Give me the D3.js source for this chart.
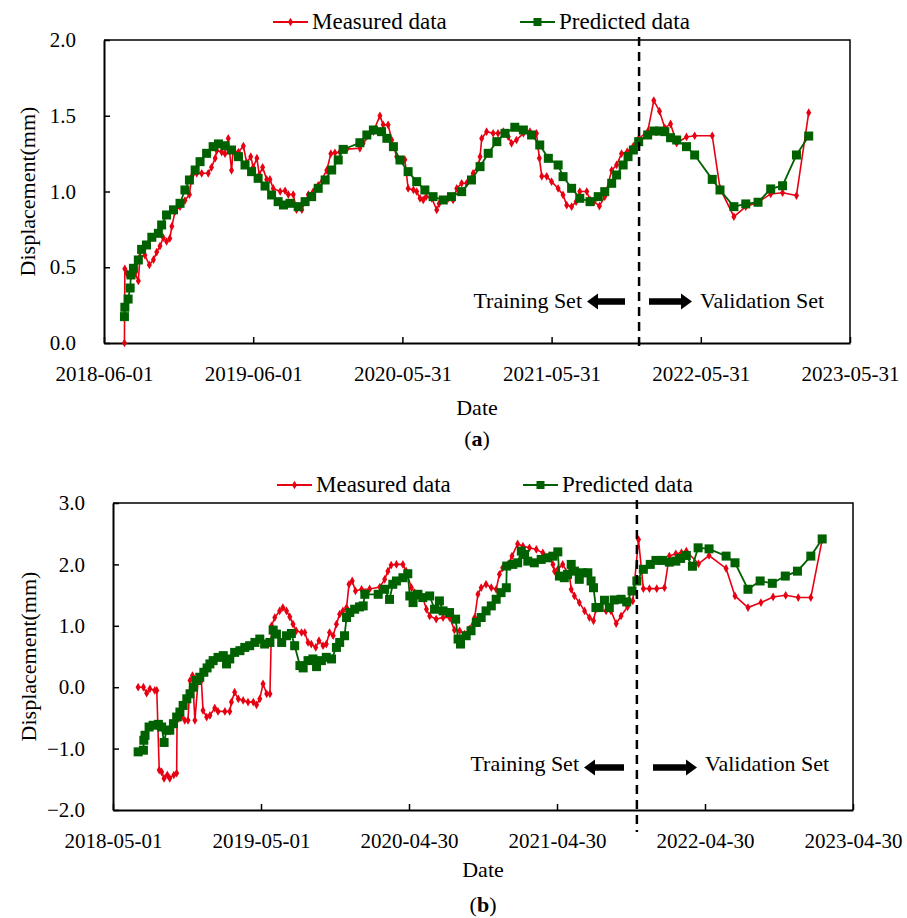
<!DOCTYPE html>
<html>
<head>
<meta charset="utf-8">
<script src="https://cdn.jsdelivr.net/npm/d3@7"></script>
<style>
  body { margin: 0; background: #fff; }
  svg text { font-family: "Liberation Serif", serif; fill: #000; }
</style>
</head>
<body>
<svg id="chart" width="907" height="918"></svg>
<script>
// ---- panel (a) data : x = days since first tick date ----
var xTicksA = ["2018-06-01", "2019-06-01", "2020-05-31", "2021-05-31", "2022-05-31", "2023-05-31"];
var yTicksA = [0, 0.5, 1.0, 1.5, 2.0];
var splitA = 1309; // training / validation boundary

var measuredDaysA = [50,51,56,68,76,84,88,100,111,121,129,137,145,153,161,166,174,186,198,209,215,227,239,255,263,272,276,288,296,304,312,316,329,341,349,359,365,374,380,388,398,406,414,431,443,451,463,471,484,500,512,524,545,555,565,577,594,626,634,659,675,683,695,704,716,736,744,757,765,773,781,788,802,814,820,842,854,863,875,887,903,916,920,924,936,952,964,977,989,997,1009,1026,1042,1058,1065,1071,1083,1095,1111,1123,1132,1144,1155,1164,1181,1189,1199,1212,1225,1242,1254,1266,1280,1295,
  1308,1330,1345,1359,1372,1386,1401,1425,1445,1488,1507,1541,1570,1600,1631,1660,1694,1724];
var measuredA = [0.0,0.49,0.46,0.47,0.46,0.41,0.57,0.58,0.515,0.55,0.60,0.64,0.695,0.67,0.69,0.77,0.87,0.90,0.94,0.98,1.10,1.12,1.12,1.12,1.16,1.22,1.27,1.26,1.25,1.35,1.14,1.27,1.26,1.30,1.19,1.23,1.16,1.22,1.11,1.16,1.08,1.08,1.02,1.00,1.005,0.98,0.98,0.88,0.88,0.98,1.00,1.04,1.14,1.25,1.255,1.26,1.28,1.285,1.32,1.395,1.50,1.44,1.44,1.34,1.23,1.21,1.02,1.01,1.00,0.955,0.944,0.966,0.955,0.878,0.92,0.955,0.944,1.02,1.054,1.054,1.12,1.175,1.23,1.35,1.395,1.384,1.384,1.395,1.362,1.318,1.34,1.384,1.395,1.384,1.22,1.10,1.10,1.065,1.02,0.977,0.91,0.90,0.933,1.00,1.00,0.944,0.933,0.904,0.966,1.14,1.175,1.25,1.263,1.30,
  1.35,1.395,1.60,1.53,1.42,1.446,1.32,1.36,1.368,1.368,1.02,0.834,0.90,0.929,0.984,0.992,0.973,1.52];

var predictedDaysA = [50,51,59,64,66,72,84,92,104,117,133,141,153,170,186,198,209,223,235,251,267,280,296,312,329,345,361,377,394,410,426,439,455,475,492,508,524,541,557,573,585,626,643,659,679,692,708,724,744,765,785,805,830,850,875,899,920,940,961,981,1005,1026,1046,1066,1087,1111,1123,1144,1164,1189,1209,1225,1242,1254,1270,1282,1295,
  1308,1330,1345,1359,1372,1386,1401,1425,1445,1488,1507,1541,1570,1600,1631,1660,1694,1724];
var predictedA = [0.174,0.236,0.29,0.363,0.449,0.493,0.548,0.618,0.647,0.698,0.724,0.779,0.845,0.879,0.922,1.01,1.076,1.142,1.197,1.252,1.296,1.314,1.302,1.274,1.23,1.175,1.131,1.087,1.036,0.977,0.933,0.911,0.922,0.90,0.933,0.966,1.021,1.076,1.142,1.208,1.278,1.322,1.373,1.406,1.395,1.351,1.296,1.208,1.131,1.065,1.01,0.966,0.944,0.966,0.999,1.076,1.164,1.252,1.329,1.384,1.424,1.406,1.373,1.307,1.219,1.175,1.098,1.021,0.955,0.933,0.966,0.999,1.054,1.109,1.175,1.23,1.274,
  1.329,1.373,1.399,1.399,1.395,1.355,1.34,1.296,1.241,1.08,1.01,0.90,0.918,0.929,1.017,1.038,1.241,1.366];

// ---- panel (b) data ----
var xTicksB = ["2018-05-01", "2019-05-01", "2020-04-30", "2021-04-30", "2022-04-30", "2023-04-30"];
var yTicksB = [-2, -1, 0, 1, 2, 3];
var splitB = 1292;

var measuredDaysB = [62,75,83,91,103,108,114,120,126,134,140,150,157,158,169,177,185,190,196,202,210,218,222,231,239,251,259,276,288,292,300,309,321,333,346,354,362,370,379,387,391,399,411,419,428,436,444,452,465,473,481,489,500,508,518,526,534,543,551,559,567,576,582,590,598,613,633,658,670,678,686,699,715,723,736,744,752,764,773,781,797,814,830,842,855,867,879,892,900,908,920,933,945,953,961,974,984,998,1011,1027,1044,1060,1076,1085,1089,1097,1109,1126,1130,1138,1150,1163,1175,1185,1191,1216,1228,1241,1253,1269,1282,1296,
  1308,1323,1341,1360,1372,1388,1402,1414,1444,1470,1512,1534,1566,1598,1628,1659,1690,1721,1749];
var measuredB = [0.0,0.0,-0.097,-0.026,-0.053,-0.053,-1.35,-1.38,-1.485,-1.43,-1.485,-1.43,-1.40,-0.54,-0.486,-0.54,-0.54,0.109,0.19,-0.54,0.109,0.109,-0.378,-0.486,-0.459,-0.34,-0.394,-0.394,-0.394,-0.243,-0.081,-0.189,-0.216,-0.243,-0.243,-0.286,-0.189,0.055,-0.107,-0.107,1.0,1.134,1.243,1.297,1.243,1.146,1.027,0.919,0.891,0.891,0.729,0.703,0.648,0.757,0.676,0.703,0.891,0.838,1.027,1.19,1.243,1.297,1.676,1.73,1.567,1.595,1.60,1.63,1.757,1.89,1.99,2.0,2.0,1.89,1.62,1.54,1.486,1.46,1.27,1.16,1.11,1.135,1.135,0.93,0.919,0.865,0.946,1.135,1.514,1.62,1.676,1.62,1.595,1.838,1.945,2.0,2.135,2.334,2.296,2.27,2.243,2.188,2.135,2.0,1.89,1.92,2.0,1.81,1.595,1.486,1.378,1.243,1.135,1.081,1.27,1.243,1.243,1.037,1.16,1.31,1.405,2.405,
  1.605,1.605,1.605,1.62,2.135,2.172,2.19,2.215,2.01,2.145,1.935,1.486,1.297,1.378,1.47,1.497,1.46,1.46,2.405];

var predictedDaysB = [62,75,76,79,89,99,112,120,126,132,140,149,157,165,173,182,190,198,206,214,224,232,239,247,259,272,280,288,300,313,325,337,350,362,374,387,395,403,416,428,440,448,461,469,481,493,502,514,526,539,551,559,571,576,584,596,608,617,621,654,670,682,690,699,715,727,732,740,752,764,781,793,805,814,830,845,851,857,871,883,896,908,920,933,945,957,970,971,986,998,1007,1015,1023,1039,1056,1072,1085,1097,1101,1113,1121,1130,1138,1150,1158,1171,1179,1185,1191,1199,1212,1224,1236,1253,1267,1280,
  1292,1308,1325,1339,1355,1372,1388,1400,1414,1429,1443,1470,1512,1534,1566,1596,1626,1658,1688,1721,1749];
var predictedB = [-1.053,-1.026,-0.864,-0.783,-0.648,-0.62,-0.605,-0.648,-0.90,-0.70,-0.70,-0.594,-0.486,-0.405,-0.297,-0.189,-0.107,0.0,0.109,0.162,0.243,0.314,0.379,0.433,0.486,0.514,0.379,0.46,0.567,0.595,0.648,0.676,0.729,0.784,0.703,0.729,0.93,0.865,0.729,0.838,0.875,0.676,0.352,0.314,0.433,0.46,0.335,0.433,0.486,0.46,0.648,0.729,0.838,1.135,1.216,1.27,1.308,1.324,1.513,1.513,1.595,1.43,1.676,1.73,1.783,1.848,1.486,1.378,1.513,1.459,1.486,1.27,1.405,1.243,1.216,1.108,0.784,0.703,0.838,0.919,1.054,1.135,1.243,1.324,1.432,1.54,1.62,1.973,2.0,2.026,2.216,2.162,2.053,2.026,2.081,2.107,2.134,2.204,1.81,1.783,1.838,2.0,1.89,1.757,1.864,1.864,1.73,1.62,1.297,1.297,1.416,1.297,1.421,1.432,1.389,1.567,
  1.73,1.92,2.0,2.065,2.065,2.037,2.053,2.097,2.146,1.97,2.27,2.253,2.135,2.026,1.595,1.73,1.692,1.81,1.89,2.135,2.415];

var seriesNames = ["Measured data", "Predicted data"];
var redColor = "#e60012";
var greenColor = "#006100";

// ---- layout for each panel ----
var panels = [
  { tag: "a", xTicks: xTicksA, yTicks: yTicksA, split: splitA,
    measured: d3.zip(measuredDaysA, measuredA), predicted: d3.zip(predictedDaysA, predictedA),
    left: 104, top: 40, right: 850, bottom: 343,
    legendY: 22, legendX: [273, 520], dashEnd: 346,
    arrowY: 301.5, noteY: 308, trainEnd: 582, valStart: 700, leftArrow: [587, 625], rightArrow: [649, 692],
    titleX: 27, dateY: 415, capY: 446 },
  { tag: "b", xTicks: xTicksB, yTicks: yTicksB, split: splitB,
    measured: d3.zip(measuredDaysB, measuredB), predicted: d3.zip(predictedDaysB, predictedB),
    left: 113, top: 503, right: 853, bottom: 810,
    legendY: 485, legendX: [277, 523], dashEnd: 832,
    arrowY: 767.5, noteY: 771, trainEnd: 579, valStart: 705, leftArrow: [584, 624], rightArrow: [653, 697],
    titleX: 28, dateY: 877, capY: 912 }
];

var svg = d3.select("#chart");
var parseDate = d3.utcParse("%Y-%m-%d");
var fmtDate = d3.utcFormat("%Y-%m-%d");

// block arrow, dir = -1 points left, 1 points right
function arrowPath(x1, x2, cy, dir) {
  var tip = dir < 0 ? x1 : x2, tail = dir < 0 ? x2 : x1;
  var hl = 11 * -dir, hh = 8, st = 3.2;
  return "M" + tip + "," + cy +
    "L" + (tip + hl) + "," + (cy - hh) + "L" + (tip + hl) + "," + (cy - st) +
    "L" + tail + "," + (cy - st) + "L" + tail + "," + (cy + st) +
    "L" + (tip + hl) + "," + (cy + st) + "L" + (tip + hl) + "," + (cy + hh) + "Z";
}

function drawPanel(p) {
  var g = svg.append("g");
  var start = parseDate(p.xTicks[0]);
  var day = function (d) { return d3.utcDay.offset(start, d); };

  var x = d3.scaleUtc()
    .domain([start, parseDate(p.xTicks[p.xTicks.length - 1])])
    .range([p.left, p.right]);
  var y = d3.scaleLinear()
    .domain(d3.extent(p.yTicks))
    .range([p.bottom, p.top]);

  // top and right frame
  g.append("path")
    .attr("d", "M" + p.left + "," + p.top + "H" + p.right + "V" + p.bottom)
    .attr("fill", "none")
    .attr("stroke", "#000")
    .attr("stroke-width", 1.5);

  var xAxis = g.append("g")
    .attr("transform", "translate(0," + p.bottom + ")")
    .call(d3.axisBottom(x)
      .tickValues(p.xTicks.map(parseDate))
      .tickFormat(fmtDate)
      .tickSizeInner(-6).tickSizeOuter(0).tickPadding(23));

  var yAxis = g.append("g")
    .attr("transform", "translate(" + p.left + ",0)")
    .call(d3.axisLeft(y)
      .tickValues(p.yTicks)
      .tickFormat(d3.format(".1f"))
      .tickSizeInner(-6).tickSizeOuter(0).tickPadding(28));

  [xAxis, yAxis].forEach(function (ax) {
    ax.attr("font-family", "Liberation Serif, serif").attr("font-size", 21);
    ax.select(".domain").attr("stroke", "#000").attr("stroke-width", 2);
    ax.selectAll(".tick line").attr("stroke", "#000").attr("stroke-width", 1.5);
  });

  // series
  var line = d3.line()
    .x(function (d) { return x(day(d[0])); })
    .y(function (d) { return y(d[1]); });

  g.append("path").datum(p.measured)
    .attr("d", line).attr("fill", "none")
    .attr("stroke", redColor).attr("stroke-width", 1.6);
  g.append("g").selectAll("path").data(p.measured).enter().append("path")
    .attr("d", d3.symbol(d3.symbolDiamond, 22))
    .attr("transform", function (d) { return "translate(" + x(day(d[0])) + "," + y(d[1]) + ")"; })
    .attr("fill", redColor);

  g.append("path").datum(p.predicted)
    .attr("d", line).attr("fill", "none")
    .attr("stroke", greenColor).attr("stroke-width", 1.8);
  g.append("g").selectAll("rect").data(p.predicted).enter().append("rect")
    .attr("x", function (d) { return x(day(d[0])) - 4.5; })
    .attr("y", function (d) { return y(d[1]) - 4.5; })
    .attr("width", 9).attr("height", 9)
    .attr("fill", greenColor);

  // training / validation split
  var sx = x(day(p.split));
  g.append("line")
    .attr("x1", sx).attr("x2", sx)
    .attr("y1", p.top - 3).attr("y2", p.dashEnd)
    .attr("stroke", "#000").attr("stroke-width", 2.5)
    .attr("stroke-dasharray", "9,6");

  g.append("path").attr("d", arrowPath(p.leftArrow[0], p.leftArrow[1], p.arrowY, -1)).attr("fill", "#000");
  g.append("path").attr("d", arrowPath(p.rightArrow[0], p.rightArrow[1], p.arrowY, 1)).attr("fill", "#000");

  g.append("text").attr("x", p.trainEnd).attr("y", p.noteY)
    .attr("text-anchor", "end").attr("font-size", 22).text("Training Set");
  g.append("text").attr("x", p.valStart).attr("y", p.noteY)
    .attr("font-size", 22).text("Validation Set");

  // legend
  var legendItems = [
    { name: seriesNames[0], color: redColor, marker: "diamond" },
    { name: seriesNames[1], color: greenColor, marker: "square" }
  ];
  legendItems.forEach(function (item, i) {
    var lx = p.legendX[i];
    g.append("line")
      .attr("x1", lx).attr("x2", lx + 35)
      .attr("y1", p.legendY).attr("y2", p.legendY)
      .attr("stroke", item.color).attr("stroke-width", 1.8);
    if (item.marker === "diamond") {
      g.append("path").attr("d", d3.symbol(d3.symbolDiamond, 22))
        .attr("transform", "translate(" + (lx + 17.5) + "," + p.legendY + ")")
        .attr("fill", item.color);
    } else {
      g.append("rect").attr("x", lx + 13.5).attr("y", p.legendY - 4)
        .attr("width", 8).attr("height", 8).attr("fill", item.color);
    }
    g.append("text").attr("x", lx + 39).attr("y", p.legendY + 7)
      .attr("font-size", 23).text(item.name);
  });

  // axis titles
  var midX = (p.left + p.right) / 2;
  g.append("text")
    .attr("transform", "translate(" + p.titleX + "," + (p.top + p.bottom) / 2 + ") rotate(-90)")
    .attr("text-anchor", "middle").attr("dy", "0.35em")
    .attr("font-size", 22).text("Displacement(mm)");
  g.append("text").attr("x", midX).attr("y", p.dateY)
    .attr("text-anchor", "middle").attr("font-size", 22).text("Date");

  var cap = g.append("text").attr("x", midX).attr("y", p.capY)
    .attr("text-anchor", "middle").attr("font-size", 22);
  cap.append("tspan").text("(");
  cap.append("tspan").attr("font-weight", "bold").text(p.tag);
  cap.append("tspan").text(")");
}

panels.forEach(drawPanel);
</script>
</body>
</html>
